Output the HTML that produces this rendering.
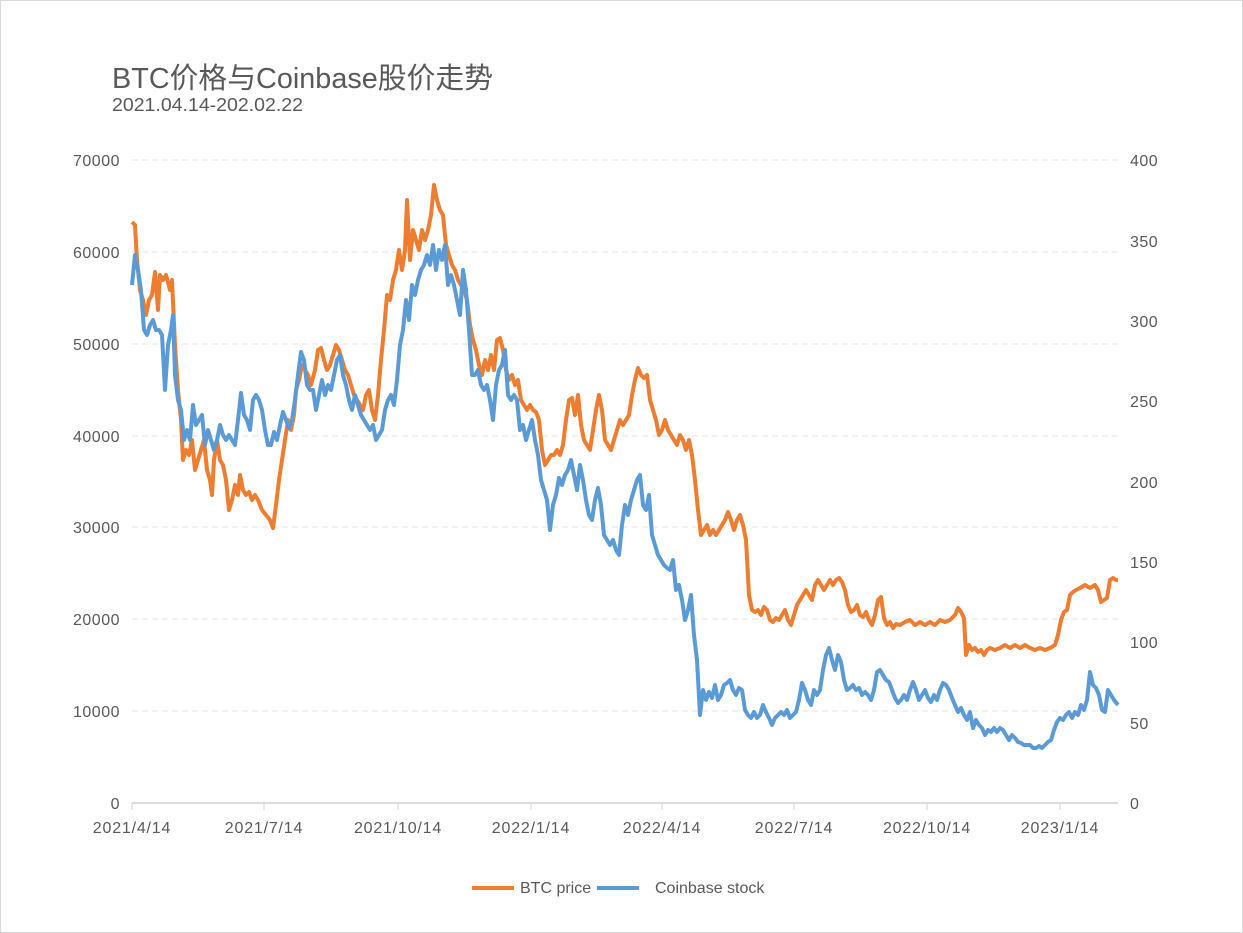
<!DOCTYPE html>
<html><head><meta charset="utf-8"><style>
html,body{margin:0;padding:0;background:#fff}
svg{display:block}
text{font-family:"Liberation Sans","Noto Sans CJK SC",sans-serif;fill:#595959}
</style></head><body>
<svg width="1243" height="933" viewBox="0 0 1243 933">
<rect x="0.5" y="0.5" width="1242" height="932" fill="#fff" stroke="#d9d9d9"/>
<text x="112" y="88" font-size="29" textLength="381" lengthAdjust="spacingAndGlyphs">BTC价格与Coinbase股价走势</text>
<text x="112" y="111" font-size="18" textLength="191" lengthAdjust="spacingAndGlyphs">2021.04.14-202.02.22</text>
<g stroke="#e3e3e3" stroke-width="1" stroke-dasharray="6,4">
<line x1="132" y1="160" x2="1118" y2="160"/><line x1="132" y1="252" x2="1118" y2="252"/>
<line x1="132" y1="344" x2="1118" y2="344"/><line x1="132" y1="436" x2="1118" y2="436"/>
<line x1="132" y1="527" x2="1118" y2="527"/><line x1="132" y1="619" x2="1118" y2="619"/>
<line x1="132" y1="711" x2="1118" y2="711"/>
</g>
<line x1="132" y1="803" x2="1118" y2="803" stroke="#d0d0d0" stroke-width="1.5"/>
<g stroke="#d0d0d0"><line x1="132" y1="803" x2="132" y2="810"/><line x1="264" y1="803" x2="264" y2="810"/><line x1="398" y1="803" x2="398" y2="810"/><line x1="531" y1="803" x2="531" y2="810"/><line x1="662" y1="803" x2="662" y2="810"/><line x1="794" y1="803" x2="794" y2="810"/><line x1="927" y1="803" x2="927" y2="810"/><line x1="1060" y1="803" x2="1060" y2="810"/></g>
<g font-size="16" text-anchor="end" letter-spacing="0.5">
<text x="120" y="166">70000</text><text x="120" y="258">60000</text><text x="120" y="350">50000</text><text x="120" y="442">40000</text><text x="120" y="533">30000</text><text x="120" y="625">20000</text><text x="120" y="717">10000</text><text x="120" y="809">0</text>
</g>
<g font-size="16" letter-spacing="0.5">
<text x="1130" y="166">400</text><text x="1130" y="247">350</text><text x="1130" y="327">300</text><text x="1130" y="407">250</text><text x="1130" y="488">200</text><text x="1130" y="568">150</text><text x="1130" y="648">100</text><text x="1130" y="729">50</text><text x="1130" y="809">0</text>
</g>
<g font-size="16" text-anchor="middle" letter-spacing="0.8">
<text x="132" y="833">2021/4/14</text><text x="264" y="833">2021/7/14</text><text x="398" y="833">2021/10/14</text><text x="531" y="833">2022/1/14</text><text x="662" y="833">2022/4/14</text><text x="794" y="833">2022/7/14</text><text x="927" y="833">2022/10/14</text><text x="1060" y="833">2023/1/14</text>
</g>
<polyline fill="none" stroke="#ED7D31" stroke-width="4" stroke-linejoin="round" points="132,222 135,225 137,260 140,290 143,300 146,315 149,300 152,295 155,272 158,310 160,275 163,280 166,275 170,290 172,280 175,345 178,390 181,420 183,460 186,450 189,455 192,440 195,470 198,460 201,450 204,440 207,470 210,480 212,495 214,460 217,440 220,460 223,465 226,480 229,510 232,500 235,485 238,495 240,475 243,490 246,495 249,492 252,500 255,495 258,500 262,510 266,515 270,520 273,528 276,505 279,480 282,460 285,440 288,420 291,430 294,415 296,390 299,380 302,365 305,370 308,375 311,385 315,370 318,350 321,348 324,360 327,370 330,365 333,355 336,345 339,350 342,360 345,370 348,375 351,385 354,395 357,400 360,405 363,410 366,395 369,390 372,410 375,420 378,395 381,360 384,330 387,295 390,300 393,280 396,270 399,250 402,270 405,250 407,200 410,260 413,230 416,240 419,250 422,230 425,240 428,230 431,215 434,185 437,200 440,210 443,215 446,245 449,255 452,265 455,270 458,280 461,285 464,290 467,300 470,325 473,340 476,350 479,365 482,375 485,360 488,370 491,355 494,370 497,340 500,338 503,350 506,370 509,380 512,375 515,385 518,380 521,400 524,405 527,410 530,405 533,410 536,412 539,420 542,450 545,465 548,460 551,455 554,455 557,450 560,455 563,445 566,420 569,400 572,398 575,415 578,395 581,425 584,440 587,445 590,450 593,430 596,410 599,395 602,410 605,440 608,445 611,450 614,440 617,430 620,420 623,425 626,420 629,415 632,395 635,380 638,368 641,375 644,378 647,375 650,400 653,410 656,420 659,435 662,430 665,420 668,430 671,435 674,440 677,445 680,435 683,440 686,450 689,440 692,455 695,480 698,510 701,535 704,530 707,525 710,535 713,530 716,535 719,530 722,525 725,520 728,512 731,520 734,530 737,520 740,515 743,525 746,540 749,595 752,610 755,612 758,610 761,615 764,607 767,610 770,620 773,622 776,618 779,620 782,615 785,610 788,620 791,625 794,615 797,605 800,600 803,595 806,590 809,595 812,600 815,585 818,580 821,585 824,590 827,585 830,580 833,585 836,580 839,578 842,582 845,590 848,605 851,612 854,610 857,605 860,615 863,617 866,612 869,620 872,625 875,615 878,600 881,597 884,618 887,625 890,622 893,628 896,624 900,625 905,622 910,620 915,625 920,622 925,625 930,622 935,625 940,620 945,622 950,620 955,615 958,608 961,612 964,618 966,655 969,645 972,650 975,648 978,652 981,650 984,655 987,650 990,648 995,650 1000,648 1005,645 1010,648 1015,645 1020,648 1025,645 1030,648 1035,650 1040,648 1045,650 1050,648 1055,645 1058,635 1061,620 1064,612 1067,610 1070,595 1073,592 1076,590 1080,588 1085,585 1090,588 1095,585 1098,590 1101,602 1104,600 1107,598 1110,580 1113,578 1116,580 1118,580"/>
<polyline fill="none" stroke="#5B9BD5" stroke-width="4" stroke-linejoin="round" points="132,285 135,255 138,270 141,290 144,330 147,335 150,325 153,320 156,330 159,330 162,335 165,390 168,345 171,330 173,315 175,375 178,400 181,410 184,440 187,430 190,440 193,405 196,425 199,420 202,415 205,445 208,430 211,440 214,450 217,440 220,425 223,435 226,440 229,435 232,440 235,445 238,420 241,393 244,415 247,420 250,430 253,400 256,395 259,400 262,410 265,430 268,445 271,445 274,432 277,440 280,425 283,412 286,420 289,428 292,420 295,400 298,375 301,352 304,360 307,385 310,390 313,390 316,410 319,395 322,380 325,395 328,385 331,390 334,375 337,360 340,355 343,375 346,385 349,400 352,410 355,395 358,405 361,415 364,420 367,425 370,430 373,425 376,440 379,435 382,430 385,410 388,400 391,395 394,405 397,380 400,345 403,330 406,300 409,320 412,285 415,295 418,280 421,270 424,265 427,255 430,265 433,245 436,270 439,250 442,260 445,245 448,285 451,275 454,285 457,300 460,315 463,270 466,290 469,330 472,375 475,375 478,370 481,385 484,390 487,385 490,400 493,420 496,385 499,370 502,365 505,350 508,395 511,400 514,395 517,400 520,430 523,425 526,440 529,430 532,420 535,440 538,455 541,480 544,490 547,500 550,530 553,505 556,495 559,478 562,485 565,475 568,470 571,460 574,475 577,490 580,465 583,480 586,500 589,515 592,520 595,500 598,488 601,505 604,535 607,540 610,545 613,540 616,550 619,555 622,525 625,505 628,515 631,500 634,490 637,480 640,475 643,505 646,510 649,495 652,535 655,545 658,555 661,560 664,565 667,568 670,570 673,560 676,590 679,585 682,600 685,620 688,610 691,595 694,635 697,660 700,715 703,690 706,700 709,692 712,698 715,685 718,700 721,695 724,685 727,683 730,680 733,690 736,695 739,688 742,690 745,710 748,715 751,718 754,712 757,718 760,715 763,705 766,712 769,718 772,725 775,718 778,715 781,712 784,715 787,710 790,718 793,715 796,712 799,700 802,683 805,690 808,700 811,705 814,690 817,695 820,690 823,670 826,655 829,648 832,660 835,670 838,655 841,662 844,680 847,690 850,688 853,685 856,690 859,688 862,695 865,692 868,695 871,700 874,690 877,672 880,670 883,675 886,680 889,682 892,690 895,698 898,703 901,700 904,695 907,700 910,690 913,682 916,690 919,700 922,695 925,690 928,698 931,702 934,695 937,700 940,690 943,683 946,685 949,690 952,698 955,705 958,712 961,708 964,715 967,720 970,712 973,728 976,720 979,725 982,728 985,735 988,730 991,732 994,728 997,732 1000,728 1003,730 1006,735 1009,740 1012,735 1015,738 1018,742 1021,743 1024,745 1027,745 1030,745 1033,748 1036,748 1039,746 1042,748 1045,745 1048,742 1051,740 1054,730 1057,722 1060,718 1063,720 1066,715 1069,712 1072,718 1075,712 1078,715 1081,705 1084,710 1087,700 1090,672 1093,685 1096,688 1099,695 1102,710 1105,712 1108,690 1111,695 1114,700 1118,705"/>
<line x1="472" y1="888" x2="514" y2="888" stroke="#ED7D31" stroke-width="4"/>
<text x="520" y="893" font-size="16">BTC price</text>
<line x1="597" y1="888" x2="639" y2="888" stroke="#5B9BD5" stroke-width="4"/>
<text x="655" y="893" font-size="16">Coinbase stock</text>
</svg>
</body></html>
